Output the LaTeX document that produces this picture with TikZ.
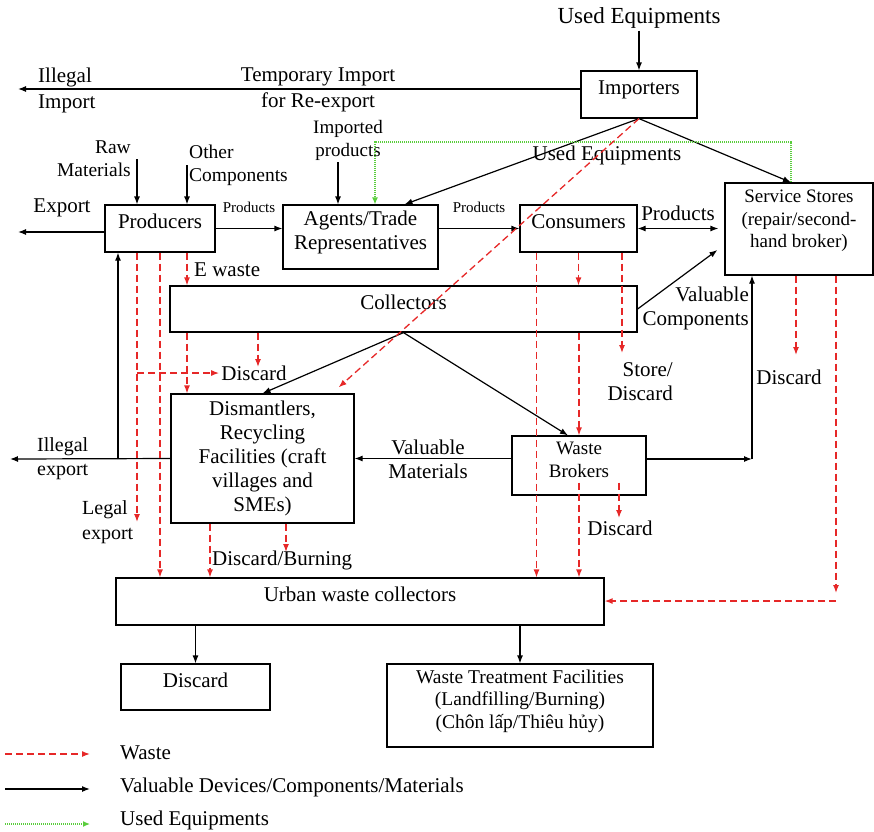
\documentclass[tikz,border=0pt]{standalone}
\usepackage{fontspec}
\setmainfont{Liberation Serif}
\usetikzlibrary{positioning,arrows.meta}

\definecolor{wastered}{RGB}{230,40,40}
\definecolor{usedgreen}{RGB}{90,205,60}

\begin{document}
\begin{tikzpicture}[
    x=1pt, y=-1pt,
    box/.style={draw, rectangle, line width=1.2pt, align=center, inner sep=3pt, text depth=14pt, font=\fontsize{21}{24}\selectfont},
    lbl/.style={inner sep=2pt, font=\fontsize{21}{24}\selectfont},
    small/.style={inner sep=2pt, font=\fontsize{15}{18}\selectfont},
    arrow/.style={-{Latex[length=8pt,width=6pt]}, line width=1.2pt},
    dblarrow/.style={{Latex[length=8pt,width=6pt]}-{Latex[length=8pt,width=6pt]}, line width=1.2pt},
    waste/.style={-{Latex[length=8pt,width=6pt]}, line width=1.3pt, wastered, dash pattern=on 7pt off 4pt},
    used/.style={-{Latex[length=7pt,width=6pt]}, line width=1.2pt, usedgreen, dash pattern=on 1.2pt off 0.8pt}
]
\useasboundingbox (0,0) rectangle (874,831);

% --- Importadores ---
\node[lbl, font=\fontsize{23}{26}\selectfont] (usedtop) at (639,18) {Used Equipments};
\node[box, minimum width=116pt, minimum height=47pt] (imp) at (639,94.5) {Importers};
\node[lbl, align=left, anchor=west, font=\fontsize{21}{26}\selectfont] (illimp) at (36,90) {Illegal\\Import};
\node[lbl, align=center, font=\fontsize{21}{26}\selectfont] (temp) at (318,90) {Temporary Import\\for Re-export};

% --- Fila de productos ---
\node[box, minimum width=110pt, minimum height=47pt] (prod) at (160,228.5) {Producers};
\node[box, minimum width=155pt, minimum height=64pt] (agents) at (360.5,237) {Agents/Trade\\Representatives};
\node[box, minimum width=117pt, minimum height=47pt] (cons) at (578.5,228.5) {Consumers};
\node[box, minimum width=148pt, minimum height=92pt, font=\fontsize{19}{22.5}\selectfont, text depth=20pt] (ss) at (799,229) {Service Stores\\(repair/second-\\hand broker)};

\node[lbl, align=right, anchor=east, font=\fontsize{19.5}{23}\selectfont] (raw) at (133,159) {Raw\\Materials};
\node[lbl, align=left, anchor=west, font=\fontsize{19.5}{23}\selectfont] (other) at (187,165) {Other\\Components};
\node[lbl, align=center, font=\fontsize{19}{23}\selectfont] (imported) at (348,140) {Imported\\products};
\node[lbl] (export) at (62,208) {Export};
\node[lbl] (uemid) at (607,155) {Used Equipments};

% --- Recolectores y desmontaje ---
\node[box, minimum width=467pt, minimum height=46pt] (coll) at (403.5,309) {Collectors};
\node[box, minimum width=183pt, minimum height=129pt, text depth=5pt] (dism) at (262.5,458.5) {Dismantlers,\\Recycling\\Facilities (craft\\villages and\\SMEs)};
\node[box, minimum width=134pt, minimum height=59pt, text depth=11pt, font=\fontsize{19}{23}\selectfont] (wb) at (579,465.5) {Waste\\Brokers};

\node[lbl, anchor=west] (ewaste) at (192,270) {E waste};
\node[lbl, align=right, anchor=east] (valcomp) at (751,308) {Valuable\\Components};
\node[lbl] (d1) at (254,373) {Discard};
\node[lbl, align=right, anchor=east] (sd) at (675,382) {Store/\\Discard};
\node[lbl] (d3) at (789,377) {Discard};
\node[lbl, align=center] (vm) at (428,459) {Valuable\\Materials};
\node[lbl, align=left, anchor=west, font=\fontsize{20}{24}\selectfont] (illexp) at (35,459) {Illegal\\export};
\node[lbl, align=left, anchor=west, font=\fontsize{20}{25}\selectfont] (legalexp) at (80,522) {Legal\\export};
\node[lbl, anchor=west] (db) at (210,560) {Discard/Burning};
\node[lbl] (d2) at (620,528) {Discard};

% --- Residuos urbanos ---
\node[box, minimum width=488pt, minimum height=47pt] (urban) at (360,601.5) {Urban waste collectors};
\node[box, minimum width=149pt, minimum height=46pt] (disc) at (195.5,687) {Discard};
\node[box, minimum width=266pt, minimum height=83pt, font=\fontsize{19.5}{22.5}\selectfont, text depth=13pt] (wtf) at (520,705.5) {Waste Treatment Facilities\\(Landfilling/Burning)\\(Chôn lấp/Thiêu hủy)};

% --- Leyenda ---
\node[lbl, anchor=west] (lgwaste) at (118,753) {Waste};
\node[lbl, anchor=west] (lgval) at (118,787) {Valuable Devices/Components/Materials};
\node[lbl, anchor=west] (lgused) at (118,820) {Used Equipments};

% --- Puntos libres ---
\coordinate (illimpend) at (18,89);
\coordinate (exportend) at (18,232);
\coordinate (illexpend) at (10,459);
\coordinate (junc) at (118,459);
\coordinate (wbcorner) at (752,459);
\coordinate (legal) at (137,522);
\coordinate (gtop) at (791,142);
\coordinate (d1tip) at (258,367);
\coordinate (dbtip) at (286,552);
\coordinate (sdtip) at (622,353);
\coordinate (d2tip) at (619,518);
\coordinate (ssd) at (796,355);
\coordinate (sscorner) at (836,601);
\coordinate (lw1) at (5,754);
\coordinate (lw2) at (90,754);
\coordinate (lv1) at (5,789);
\coordinate (lv2) at (90,789);
\coordinate (lu1) at (5,824);
\coordinate (lu2) at (90,824);

% --- Conexiones: dispositivos y materiales ---
\draw[arrow] (usedtop) -- (imp);
\draw[arrow] (imp.west |- illimpend) -- (illimpend);
\draw[arrow] (imp.south) -- ([xshift=44]agents.north);
\draw[arrow] (imp.south) -- (ss.north -| gtop);
\draw[arrow] ([xshift=-22.5]agents.north |- imported.south) -- ([xshift=-22.5]agents.north);
\draw[arrow] (raw.east -| legal) -- (prod.north -| legal);
\draw[arrow] (other.west) -- (other.west |- prod.north);
\draw[arrow] (prod.east) -- (agents.west |- prod.east) node[small, midway, above=13pt] (p1) {Products};
\draw[arrow] (agents.east |- cons.west) -- (cons.west) node[small, midway, above=13pt] (p2) {Products};
\draw[dblarrow] (cons.east) -- ([xshift=-6]ss.west |- cons.east) node[lbl, midway, above=5pt] (p3) {Products};
\draw[arrow] (prod.west |- exportend) -- (exportend);
\draw[arrow] (coll.east) -- ([shift={(-7,21)}]ss.west);
\draw[arrow] (coll.south) -- (dism.north);
\draw[arrow] (coll.south) -- ([xshift=-11]wb.north);
\draw[arrow] (wb.east |- wbcorner) -- (wbcorner);
\draw[arrow] (wbcorner) -- (wbcorner |- ss.south);
\draw[arrow] (wb.west |- dism.east) -- (dism.east);
\draw[arrow] (dism.west) -- (illexpend);
\draw[arrow] (junc) -- (junc |- prod.south);
\draw[arrow] (urban.south -| disc.north) -- (disc.north);
\draw[arrow] (urban.south -| wtf.north) -- (wtf.north);

% --- Conexiones: equipos usados ---
\draw[used] (ss.north -| gtop) -- (gtop) -| ([xshift=14.5]agents.north);

% --- Conexiones: residuos ---
\draw[waste] (imp.south) -- ([shift={(-16,-6)}]dism.north east);
\draw[waste] (prod.south -| legal) -- (legal);
\draw[waste] (legal |- d1.west) -- (d1.west);
\draw[waste] (prod.south) -- (prod.south |- urban.north);
\draw[waste] (other.west |- prod.south) -- (other.west |- coll.north);
\draw[waste] (other.west |- coll.south) -- (other.west |- dism.north);
\draw[waste] (coll.south -| d1tip) -- (d1tip);
\draw[waste] (dism.south -| db.west) -- (urban.north -| db.west);
\draw[waste] (dism.south -| dbtip) -- (dbtip);
\draw[waste] ([xshift=-42]cons.south) -- ([xshift=-42]cons.south |- urban.north);
\draw[waste] (cons.south) -- (cons.south |- coll.north);
\draw[waste] (cons.south -| sdtip) -- (sdtip);
\draw[waste] (wb.north |- coll.south) -- (wb.north);
\draw[waste] ([yshift=13]wb.south) -- (wb.south |- urban.north);
\draw[waste] ([yshift=13]wb.south -| d2tip) -- (d2tip);
\draw[waste] (ss.south -| ssd) -- (ssd);
\draw[waste] (ss.south -| sscorner) -- ([yshift=8]sscorner);
\draw[waste] (sscorner) -- (urban.east |- sscorner);

% --- Leyenda: flechas ---
\draw[waste] (lw1) -- (lw2);
\draw[arrow] (lv1) -- (lv2);
\draw[used] (lu1) -- (lu2);

\end{tikzpicture}
\end{document}
